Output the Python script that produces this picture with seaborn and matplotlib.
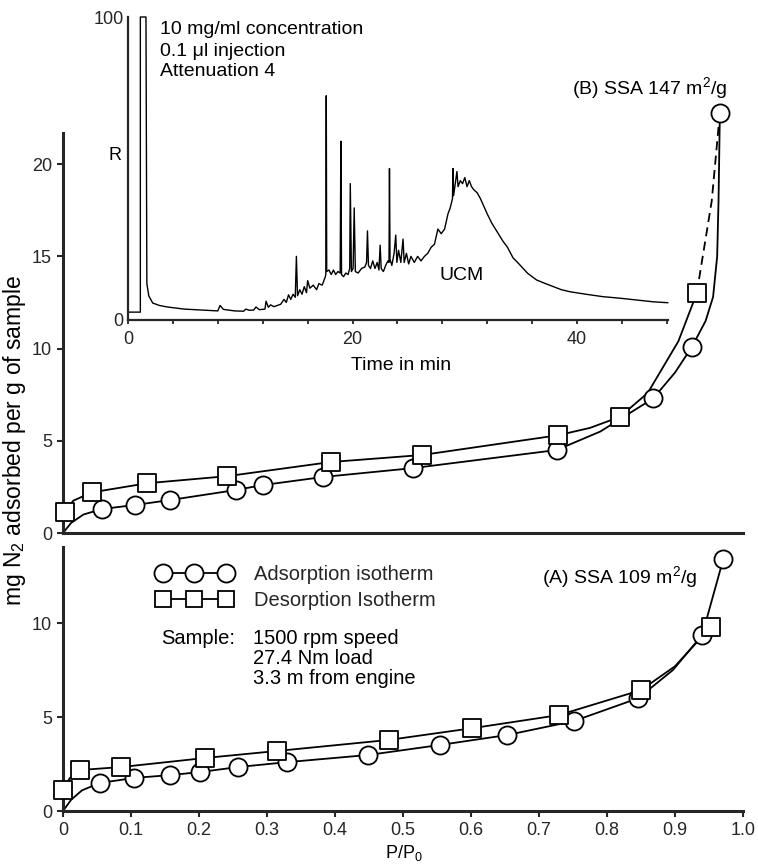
import matplotlib
matplotlib.use("Agg")
import matplotlib.pyplot as plt
import seaborn as sns
from matplotlib.lines import Line2D
from matplotlib.legend_handler import HandlerLine2D

# ---------------- data ----------------
# (B) upper panel, SSA 147 m2/g
b_ads_x = [0.057, 0.106, 0.158, 0.254, 0.294, 0.383, 0.515, 0.726, 0.868, 0.925, 0.966]
b_ads_y = [1.30, 1.52, 1.79, 2.33, 2.60, 3.04, 3.52, 4.50, 7.30, 10.1, 22.8]
b_des_x = [0.003, 0.042, 0.124, 0.241, 0.394, 0.528, 0.728, 0.819, 0.932]
b_des_y = [1.14, 2.20, 2.70, 3.08, 3.85, 4.23, 5.30, 6.30, 13.0]
# drawn curves
b_ads_curve_x = [0.0, 0.012, 0.030, 0.057, 0.106, 0.158, 0.254, 0.294, 0.383, 0.515, 0.726,
                 0.790, 0.868, 0.900, 0.925, 0.945, 0.956, 0.962, 0.964, 0.966]
b_ads_curve_y = [0.0, 0.55, 1.00, 1.30, 1.52, 1.79, 2.33, 2.60, 3.04, 3.52, 4.50,
                 5.50, 7.30, 8.70, 10.1, 11.5, 12.8, 15.0, 18.0, 22.8]
b_des_curve_x = [0.003, 0.015, 0.042, 0.124, 0.241, 0.394, 0.528, 0.728, 0.775, 0.819,
                 0.860, 0.905, 0.932]
b_des_curve_y = [1.14, 1.75, 2.20, 2.70, 3.08, 3.85, 4.23, 5.30, 5.70, 6.30,
                 7.60, 10.4, 13.0]
b_dash_x = [0.932, 0.954, 0.966]
b_dash_y = [13.0, 18.0, 22.8]

# (A) lower panel, SSA 109 m2/g
a_ads_x = [0.054, 0.105, 0.158, 0.201, 0.258, 0.330, 0.449, 0.554, 0.653, 0.751, 0.846, 0.940, 0.971]
a_ads_y = [1.49, 1.76, 1.91, 2.07, 2.34, 2.60, 2.98, 3.51, 4.04, 4.78, 6.00, 9.36, 13.4]
a_des_x = [0.0, 0.025, 0.086, 0.209, 0.314, 0.479, 0.601, 0.729, 0.850, 0.953]
a_des_y = [1.10, 2.18, 2.34, 2.82, 3.19, 3.78, 4.40, 5.10, 6.43, 9.80]
a_ads_curve_x = [0.0, 0.012, 0.028, 0.054, 0.105, 0.158, 0.201, 0.258, 0.330, 0.449, 0.554,
                 0.653, 0.751, 0.846, 0.897, 0.940, 0.971]
a_ads_curve_y = [0.0, 0.60, 1.10, 1.49, 1.76, 1.91, 2.07, 2.34, 2.60, 2.98, 3.51,
                 4.04, 4.78, 6.00, 7.50, 9.36, 13.4]
a_des_curve_x = [0.0, 0.010, 0.025, 0.086, 0.209, 0.314, 0.479, 0.601, 0.729, 0.850, 0.900, 0.953]
a_des_curve_y = [1.10, 1.75, 2.18, 2.34, 2.82, 3.19, 3.78, 4.40, 5.10, 6.43, 7.70, 9.80]

x_ticks = [0.0, 0.1, 0.2, 0.3, 0.4, 0.5, 0.6, 0.7, 0.8, 0.9, 1.0]
x_tick_labels = ["0", "0.1", "0.2", "0.3", "0.4", "0.5", "0.6", "0.7", "0.8", "0.9", "1.0"]
b_y_ticks = [0, 5, 10, 15, 20]
a_y_ticks = [0, 5, 10]

# Inset chromatogram (time in min, response R)
chrom_t = [0.0, 1.1, 1.1, 1.6, 1.68, 1.85, 2.2, 2.8, 3.5, 5.0, 6.5, 8.0, 8.2, 8.5, 9.5, 10.3,
           10.5, 10.8, 11.2, 11.4, 11.7, 12.2, 12.3, 12.5, 12.7, 13.0, 13.3, 13.6, 13.9, 14.1,
           14.3, 14.5, 14.7, 14.9, 15.0, 15.1, 15.3, 15.5, 15.7, 15.9, 16.0, 16.2, 16.5, 16.8,
           17.0, 17.3, 17.55, 17.62, 17.66, 17.7, 17.9, 18.1, 18.3, 18.5, 18.7, 18.9, 18.96,
           19.02, 19.2, 19.4, 19.6, 19.75, 19.8, 19.9, 20.05, 20.15, 20.25, 20.5, 20.8, 21.1,
           21.25, 21.33, 21.42, 21.6, 21.8, 22.0, 22.2, 22.35, 22.46, 22.55, 22.75, 22.95,
           23.15, 23.25, 23.29, 23.34, 23.5, 23.7, 23.85, 23.95, 24.1, 24.3, 24.5, 24.6, 24.8,
           25.0, 25.2, 25.5, 25.8, 26.1, 26.4, 26.7, 27.0, 27.3, 27.6, 27.9, 28.2, 28.5, 28.7,
           28.9, 28.95, 29.0, 29.15, 29.3, 29.4, 29.6, 29.8, 30.0, 30.2, 30.4, 30.6, 30.8,
           31.1, 31.4, 31.7, 32.0, 32.4, 32.9, 33.4, 33.8, 34.3, 34.7, 35.2, 35.6, 36.4, 37.2,
           37.9, 38.6, 39.4, 40.8, 42.3, 43.8, 45.3, 46.8, 48.1]
chrom_r = [2.6, 2.6, 100.0, 100.0, 12.0, 8.0, 5.6, 4.8, 4.3, 3.6, 3.3, 3.0, 4.8, 3.5, 3.0, 2.9,
           3.6, 3.2, 3.3, 4.3, 3.4, 3.6, 6.2, 4.2, 5.0, 4.4, 4.8, 5.2, 6.8, 5.8,
           8.3, 6.8, 8.5, 7.5, 21.0, 8.0, 10.0, 8.5, 11.0, 9.0, 13.0, 10.5, 11.5, 10.0,
           12.0, 11.5, 14.0, 15.0, 74.0, 16.0, 16.5, 15.0, 16.5, 15.0, 16.0, 15.5, 59.0,
           15.0, 14.3, 15.5, 15.0, 17.0, 45.0, 16.0, 17.0, 37.0, 16.0, 15.5, 17.0, 17.5,
           19.0, 29.4, 18.0, 17.0, 19.5, 17.0, 19.0, 16.5, 24.7, 17.0, 16.0, 18.0,
           19.5, 19.0, 50.0, 20.0, 18.0, 22.0, 28.0, 19.0, 23.0, 19.0, 26.7, 19.0, 22.0,
           18.5, 21.0, 19.0, 21.0, 19.5, 21.0, 22.0, 24.0, 25.0, 30.0, 28.5, 30.0, 35.0, 37.0,
           40.0, 50.0, 41.0, 45.0, 49.0, 44.0, 46.0, 45.0, 47.0, 44.0, 46.0, 44.0, 43.0,
           42.0, 40.0, 37.5, 35.0, 32.0, 29.0, 26.0, 24.0, 20.5, 19.0, 17.0, 15.4, 13.2, 12.0,
           11.0, 10.0, 9.3, 8.5, 7.7, 7.2, 6.6, 6.0, 5.7]
chrom_x_ticks = [0, 4, 8, 12, 16, 20, 24, 28, 32, 36, 40, 44, 48]
chrom_x_labels = ["0", "", "", "", "", "20", "", "", "", "", "40", "", ""]

# ---------------- style ----------------
sns.set_style("ticks")
plt.rcParams['font.family'] = ['Liberation Sans', 'DejaVu Sans']
plt.rcParams['mathtext.fontset'] = 'custom'
plt.rcParams['mathtext.rm'] = 'Liberation Sans'
plt.rcParams['mathtext.it'] = 'Liberation Sans:italic'
plt.rcParams['mathtext.bf'] = 'Liberation Sans:bold'

W, H = 758, 866
fig = plt.figure(figsize=(W / 100, H / 100), dpi=100)
fig.patch.set_facecolor('white')


def px_axes(l, t, r, b):
    return fig.add_axes([l / W, 1 - b / H, (r - l) / W, (b - t) / H])


def ftext(x, y, s, **kw):
    kw.setdefault('va', 'center')
    kw.setdefault('ha', 'left')
    kw.setdefault('fontsize', 14)
    return fig.text(x / W, 1 - y / H, s, color='black', **kw)


LW = 1.3
MEW = 1.3
CIRC_S = 170
SQ_S = 150

# ---------- upper panel (B) ----------
B_PX = 18.44
b_ymax = 23.5
axB = px_axes(63, 533 - b_ymax * B_PX, 743, 533)
axB.set_facecolor('none')
sns.lineplot(x=b_ads_curve_x, y=b_ads_curve_y, sort=False, estimator=None, color='black',
             lw=LW, ax=axB)
sns.lineplot(x=b_des_curve_x, y=b_des_curve_y, sort=False, estimator=None, color='black',
             lw=LW, ax=axB)
sns.lineplot(x=b_dash_x, y=b_dash_y, sort=False, estimator=None, color='black',
             lw=LW, ax=axB, linestyle=(0, (5, 3)))
sns.scatterplot(x=b_ads_x, y=b_ads_y, marker='o', s=CIRC_S, color='white', edgecolor='black',
                linewidth=MEW, zorder=4, ax=axB, clip_on=False)
sns.scatterplot(x=b_des_x, y=b_des_y, marker='s', s=SQ_S, color='white', edgecolor='black',
                linewidth=MEW, zorder=4, ax=axB, clip_on=False)
axB.set_xlim(0, 1.0)
axB.set_ylim(0, b_ymax)
axB.set_xticks([])
axB.set_yticks(b_y_ticks)
axB.set_yticklabels([str(v) for v in b_y_ticks])
sns.despine(ax=axB, top=True, right=True)
axB.spines['left'].set_bounds(0, 21.7)
axB.spines['left'].set_linewidth(2.2)
axB.spines['bottom'].set_linewidth(2.2)
axB.tick_params(axis='y', direction='out', length=4, width=1.5, pad=4, labelsize=13)

# ---------- lower panel (A) ----------
A_PX = 18.8
a_ymax = 14.04
axA = px_axes(63, 811 - a_ymax * A_PX, 743, 811)
axA.set_facecolor('none')
sns.lineplot(x=a_ads_curve_x, y=a_ads_curve_y, sort=False, estimator=None, color='black',
             lw=LW, ax=axA)
sns.lineplot(x=a_des_curve_x, y=a_des_curve_y, sort=False, estimator=None, color='black',
             lw=LW, ax=axA)
sns.scatterplot(x=a_ads_x, y=a_ads_y, marker='o', s=CIRC_S, color='white', edgecolor='black',
                linewidth=MEW, zorder=4, ax=axA, clip_on=False)
sns.scatterplot(x=a_des_x, y=a_des_y, marker='s', s=SQ_S, color='white', edgecolor='black',
                linewidth=MEW, zorder=4, ax=axA, clip_on=False)
axA.set_xlim(0, 1.0)
axA.set_ylim(0, a_ymax)
axA.set_xticks(x_ticks)
axA.set_xticklabels(x_tick_labels)
axA.set_yticks(a_y_ticks)
axA.set_yticklabels([str(v) for v in a_y_ticks])
sns.despine(ax=axA, top=True, right=True)
axA.spines['left'].set_linewidth(2.2)
axA.spines['bottom'].set_linewidth(2.2)
axA.tick_params(axis='both', direction='out', length=4, width=1.5, pad=4, labelsize=13)
axA.set_xlabel("")
axA.set_ylabel("")

# legend in lower panel
h_ads = Line2D([], [], color='black', lw=LW, marker='o', markersize=13,
               markerfacecolor='white', markeredgecolor='black', markeredgewidth=MEW)
h_des = Line2D([], [], color='black', lw=LW, marker='s', markersize=12,
               markerfacecolor='white', markeredgecolor='black', markeredgewidth=MEW)
leg = axA.legend([h_ads, h_des], ["Adsorption isotherm", "Desorption Isotherm"],
                 loc='upper left', bbox_to_anchor=(147 / W, 1 - 565 / H),
                 bbox_transform=fig.transFigure, frameon=False, numpoints=3,
                 handlelength=4.7, handletextpad=0.6, labelspacing=0.35,
                 borderpad=0, borderaxespad=0, fontsize=14.5,
                 handler_map={Line2D: HandlerLine2D(marker_pad=0.8)})

# ---------- inset chromatogram ----------
axC = px_axes(128, 17, 668, 320)
axC.set_facecolor('none')
sns.lineplot(x=chrom_t, y=chrom_r, sort=False, estimator=None, color='black', lw=1.0, ax=axC)
for ln in axC.lines:
    ln.set_clip_on(False)
axC.set_xlim(0, 48.1)
axC.set_ylim(0, 100)
axC.set_xticks(chrom_x_ticks)
axC.set_xticklabels(chrom_x_labels)
axC.set_yticks([0, 100])
axC.set_yticklabels(["0", "100"])
sns.despine(ax=axC, top=True, right=True)
axC.spines['left'].set_linewidth(1.6)
axC.spines['bottom'].set_linewidth(1.6)
axC.tick_params(axis='x', direction='out', length=3, width=1.3, pad=5, labelsize=13)
axC.tick_params(axis='y', length=0, pad=3, labelsize=13)
axC.set_xlabel("")
axC.set_ylabel("")

# ---------- texts ----------
ftext(160, 29, "10 mg/ml concentration")
ftext(160, 51, "0.1 \u03bcl injection")
ftext(160, 72, "Attenuation 4")
ftext(115, 155, "R", ha='center', fontsize=13)
ftext(462, 275, "UCM", ha='center')
ftext(401, 366, "Time in min", ha='center')
ftext(572, 88, "(B) SSA 147 m$^2$/g")
ftext(542, 577, "(A) SSA 109 m$^2$/g")
ftext(161, 638, "Sample:", fontsize=14.5)
ftext(253, 638, "1500 rpm speed", fontsize=14.5)
ftext(253, 659, "27.4 Nm load", fontsize=14.5)
ftext(253, 679, "3.3 m from engine", fontsize=14.5)
ftext(404, 853, "P/P$_0$", ha='center', fontsize=13)
ftext(15, 440, "mg N$_2$ adsorbed per g of sample", ha='center', rotation=90, fontsize=16.5)

fig.savefig("out.png", dpi=100, facecolor='white')
